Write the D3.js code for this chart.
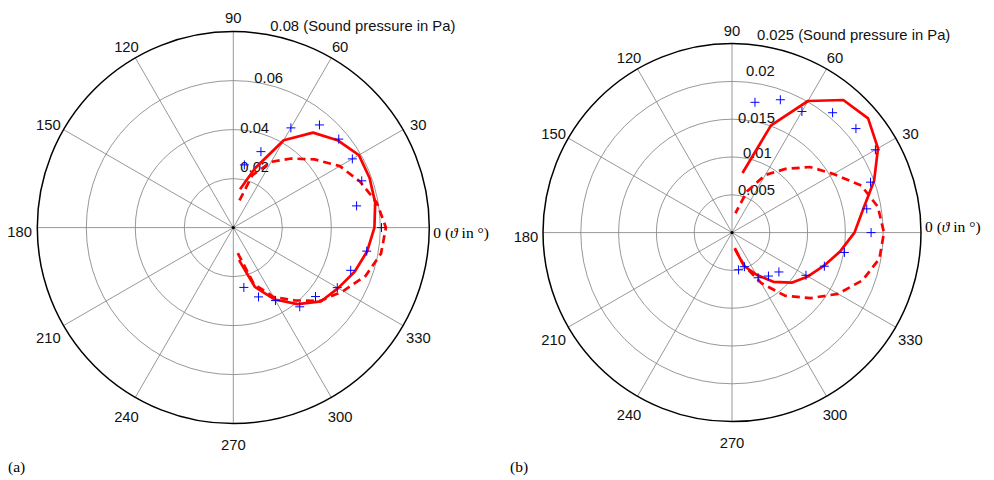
<!DOCTYPE html>
<html>
<head>
<meta charset="utf-8">
<title>Polar sound pressure</title>
<style>
  body { margin: 0; background: #fff; }
  svg { display: block; }
  .ring { fill: none; stroke: #858585; stroke-width: 0.85; }
  .spoke { stroke: #858585; stroke-width: 0.85; }
  .rim { fill: none; stroke: #000; stroke-width: 1.5; }
  .lab { font: 14.8px "Liberation Sans", Arial, sans-serif; fill: #111; }
  .serif { font: 15.5px "Liberation Serif", "DejaVu Serif", serif; fill: #000; }
  .solid { fill: none; stroke: #ff0000; stroke-width: 2.7; stroke-linejoin: round; }
  .dashed { fill: none; stroke: #ff0000; stroke-width: 2.7; stroke-dasharray: 8,5; }
  .pt { fill: none; stroke: #0000ff; stroke-width: 1; }
</style>
</head>
<body>
<script src="https://cdn.jsdelivr.net/npm/d3@7/dist/d3.min.js"></script>
<script>
// angles (degrees) at which every series is sampled
var angles = [-80, -70, -60, -50, -40, -30, -20, -10, 0, 10, 20, 30, 40, 50, 60, 70, 80];

// (a) sound pressure in Pa
var solidA  = [0.0135, 0.0257, 0.0339, 0.0408, 0.0468, 0.0494, 0.0527, 0.0555, 0.0576, 0.0588, 0.0592, 0.0592, 0.0555, 0.0506, 0.0412, 0.0257, 0.0159];
var dashedA = [0.0106, 0.0245, 0.0326, 0.0388, 0.0465, 0.0518, 0.0575, 0.0612, 0.0623, 0.0594, 0.0550, 0.0502, 0.0433, 0.0368, 0.0310, 0.0228, 0.0095];
var pointsA = [0.0248, 0.0301, 0.0344, 0.0422, 0.0438, 0.0490, 0.0510, 0.0553, 0.0605, 0.0511, 0.0558, 0.0561, 0.0562, 0.0547, 0.0470, 0.0330, 0.0260];

// (b) sound pressure in Pa
var solidB  = [0.0022, 0.0047, 0.0064, 0.0085, 0.0103, 0.0116, 0.0129, 0.0145, 0.0162, 0.0176, 0.0200, 0.0223, 0.0235, 0.0229, 0.0201, 0.0151, 0.0080];
var dashedB = [0.0021, 0.0046, 0.0077, 0.0109, 0.0135, 0.0162, 0.0184, 0.0198, 0.0201, 0.0196, 0.0182, 0.0155, 0.0135, 0.0110, 0.0088, 0.0058, 0.0026];
var pointsB = [0.0050, 0.0048, 0.0069, 0.0075, 0.0081, 0.0113, 0.0130, 0.0151, 0.0184, 0.0181, 0.0195, 0.0219, 0.0214, 0.0207, 0.0185, 0.0187, 0.0175];

// tick labels
var ticksA = ["0.02", "0.04", "0.06", "0.08 (Sound pressure in Pa)"];
var ticksB = ["0.005", "0.01", "0.015", "0.02", "0.025 (Sound pressure in Pa)"];
var spokeAngles = [0, 30, 60, 90, 120, 150];
var angleLabels = [30, 60, 90, 120, 150, 180, 210, 240, 270, 300, 330];

var svg = d3.select("body").append("svg")
    .attr("width", 994)
    .attr("height", 480);

var rad = function(d) { return d * Math.PI / 180; };

function drawPolar(opt) {
    var g = svg.append("g").attr("transform", "translate(" + opt.cx + "," + opt.cy + ")");
    var r = d3.scaleLinear().domain([0, opt.max]).range([0, opt.R]);
    var tickVals = opt.ticks.map(function(t) { return parseFloat(t); });

    // rings
    g.selectAll("circle.ring").data(tickVals.slice(0, -1)).enter().append("circle")
        .attr("class", "ring")
        .attr("r", function(d) { return r(d); });

    // spokes
    g.selectAll("line.spoke").data(spokeAngles).enter().append("line")
        .attr("class", "spoke")
        .attr("x1", function(d) { return -opt.R * Math.cos(rad(d)); })
        .attr("y1", function(d) { return opt.R * Math.sin(rad(d)); })
        .attr("x2", function(d) { return opt.R * Math.cos(rad(d)); })
        .attr("y2", function(d) { return -opt.R * Math.sin(rad(d)); });

    g.append("circle").attr("class", "rim").attr("r", opt.R);
    g.append("circle").attr("r", 1.6).attr("fill", "#000");

    // angle labels
    var lr = opt.R * 1.09;
    g.selectAll("text.ang").data(angleLabels).enter().append("text")
        .attr("class", "lab")
        .attr("text-anchor", "middle")
        .attr("x", function(d) { return lr * Math.cos(rad(d)); })
        .attr("y", function(d) { return -lr * Math.sin(rad(d)) + 9; })
        .text(function(d) { return d; });

    var zero = g.append("text").attr("class", "serif")
        .attr("x", opt.R + 4)
        .attr("y", opt.zeroY);
    zero.append("tspan").text("0 (");
    zero.append("tspan").attr("font-style", "italic").text("\u03D1");
    zero.append("tspan").text(" in \u00B0)");

    // radial tick labels
    g.selectAll("text.tick").data(opt.ticks).enter().append("text")
        .attr("class", "lab")
        .attr("x", function(d, i) { return opt.tickPos[i][0]; })
        .attr("y", function(d, i) { return -r(tickVals[i]) + opt.tickPos[i][1]; })
        .text(function(d) { return d; });

    var line = d3.lineRadial()
        .angle(function(d) { return rad(90 - d[0]); })
        .radius(function(d) { return r(d[1]); });

    var pair = function(vals) { return angles.map(function(a, i) { return [a, vals[i]]; }); };

    g.append("path").attr("class", "dashed").attr("d", line(pair(opt.dashed)));
    g.append("path").attr("class", "solid").attr("d", line(pair(opt.solid)));

    g.selectAll("path.pt").data(pair(opt.points)).enter().append("path")
        .attr("class", "pt")
        .attr("transform", function(d) {
            return "translate(" + (r(d[1]) * Math.cos(rad(d[0]))) + "," + (-r(d[1]) * Math.sin(rad(d[0]))) + ")";
        })
        .attr("d", "M-4.5,0H4.5M0,-4.5V4.5");

    svg.append("text").attr("class", "serif")
        .attr("x", opt.panelX).attr("y", 472)
        .text(opt.panel);
}

drawPolar({
    cx: 233.3, cy: 227.6, R: 196, max: 0.08,
    ticks: ticksA,
    tickPos: [[7, -7], [7, 3], [21, 2], [37, -1]],
    solid: solidA, dashed: dashedA, points: pointsA,
    zeroY: 10.5, panel: "(a)", panelX: 8
});

drawPolar({
    cx: 732, cy: 232.6, R: 189, max: 0.025,
    ticks: ticksB,
    tickPos: [[6, 0], [11, 1], [6, 4], [14, -5], [25, -4]],
    solid: solidB, dashed: dashedB, points: pointsB,
    zeroY: -1, panel: "(b)", panelX: 510
});
</script>
</body>
</html>
